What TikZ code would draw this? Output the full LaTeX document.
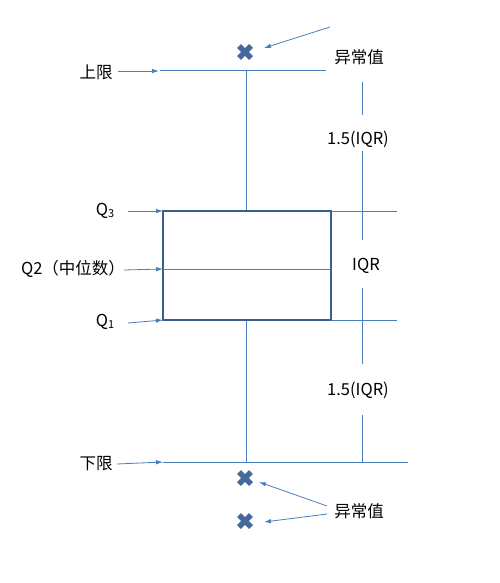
\documentclass[tikz,border=0pt]{standalone}
\usepackage{fontspec}
\setmainfont{Noto Sans CJK SC}
\usetikzlibrary{arrows.meta,calc}
\definecolor{ln}{HTML}{4A7EBB}
\definecolor{bx}{HTML}{3A5F8E}
\definecolor{cx}{HTML}{46699B}
\tikzset{
  lnk/.style={draw=ln, line width=0.9pt},
  arr/.style={draw=ln, line width=0.8pt, -{Latex[length=7pt,width=4.5pt]}},
  lbl/.style={font=\fontsize{16.5}{16.5}\selectfont, inner sep=0pt, text=black},
  outl/.style={draw=cx, line width=5.5pt}
}
\newcommand{\sm}[1]{\raisebox{-1.5pt}{\fontsize{11}{11}\selectfont #1}}
\newcommand{\crossmark}[1]{\draw[outl] ($(#1)+(-6,-6)$) -- ($(#1)+(6,6)$); \draw[outl] ($(#1)+(-6,6)$) -- ($(#1)+(6,-6)$);}
\begin{document}
\begin{tikzpicture}[x=1pt,y=-1pt]
\useasboundingbox (0,0) rectangle (500,583);
% coordinates
\coordinate (ulL) at (160,70);
\coordinate (ulR) at (326,70);
\coordinate (llL) at (163,462);
\coordinate (llR) at (408,462);
\coordinate (wt) at (246,70);
\coordinate (wtb) at (246,211);
\coordinate (wb) at (246,320);
\coordinate (wbb) at (246,462);
% whiskers & limits
\draw[lnk] (ulL) -- (ulR);
\draw[lnk] (llL) -- (llR);
\draw[lnk] (wt) -- (wtb);
\draw[lnk] (wb) -- (wbb);
% box
\node[draw=bx, line width=1.8pt, minimum width=168pt, minimum height=109pt, inner sep=0pt, outer sep=0pt, anchor=north west] (box) at (163,211) {};
\coordinate (medL) at (163,269);
\coordinate (medR) at (331,269);
\draw[lnk] (medL) -- (medR);
% right extension lines
\coordinate (q3r) at (397,211);
\coordinate (q1r) at (397,320);
\draw[lnk] (box.north east) -- (q3r);
\draw[lnk] (box.south east) -- (q1r);
% dimension line segments
\coordinate (d1a) at (362,82);
\coordinate (d1b) at (362,115);
\coordinate (d2a) at (362,151);
\coordinate (d2b) at (362,240);
\coordinate (d3a) at (362,288);
\coordinate (d3b) at (362,364);
\coordinate (d4a) at (362,415);
\coordinate (d4b) at (362,462);
\draw[lnk] (d1a) -- (d1b);
\draw[lnk] (d2a) -- (d2b);
\draw[lnk] (d3a) -- (d3b);
\draw[lnk] (d4a) -- (d4b);
% labels
\node[lbl] (up) at (96,72) {上限};
\node[lbl] (low) at (96,464) {下限};
\node[lbl] (q3) at (105,211) {Q\sm{3}};
\node[lbl] (q2) at (73,269) {Q2（中位数）};
\node[lbl] (q1) at (105,322) {Q\sm{1}};
\node[lbl] (o1) at (359,57) {异常值};
\node[lbl] (o2) at (359,511) {异常值};
\node[lbl] (r1) at (358,139) {1.5(IQR)};
\node[lbl] (r2) at (358,390) {1.5(IQR)};
\node[lbl] (iqr) at (366,266) {IQR};
% outliers
\coordinate (x1) at (245,52);
\coordinate (x2) at (245,478);
\coordinate (x3) at (245,521);
\crossmark{x1}
\crossmark{x2}
\crossmark{x3}
% arrows
\coordinate (a1) at (118,71);
\coordinate (a2) at (117,464);
\coordinate (a3) at (128,211);
\coordinate (a4) at (124,270);
\coordinate (a5) at (128,323);
\coordinate (t1) at (159,71);
\draw[arr] (a1) -- (t1);
\draw[arr] (a2) -- (llL);
\draw[arr] (a3) -- (box.north west);
\draw[arr] (a4) -- (medL);
\draw[arr] (a5) -- (box.south west);
\coordinate (b1) at (330,27);
\coordinate (t2) at (264,48);
\draw[arr] (b1) -- (t2);
\coordinate (b2) at (327,506);
\coordinate (b3) at (327,514);
\coordinate (t3) at (259,482);
\coordinate (t4) at (264,522);
\draw[arr] (b2) -- (t3);
\draw[arr] (b3) -- (t4);
\end{tikzpicture}
\end{document}
